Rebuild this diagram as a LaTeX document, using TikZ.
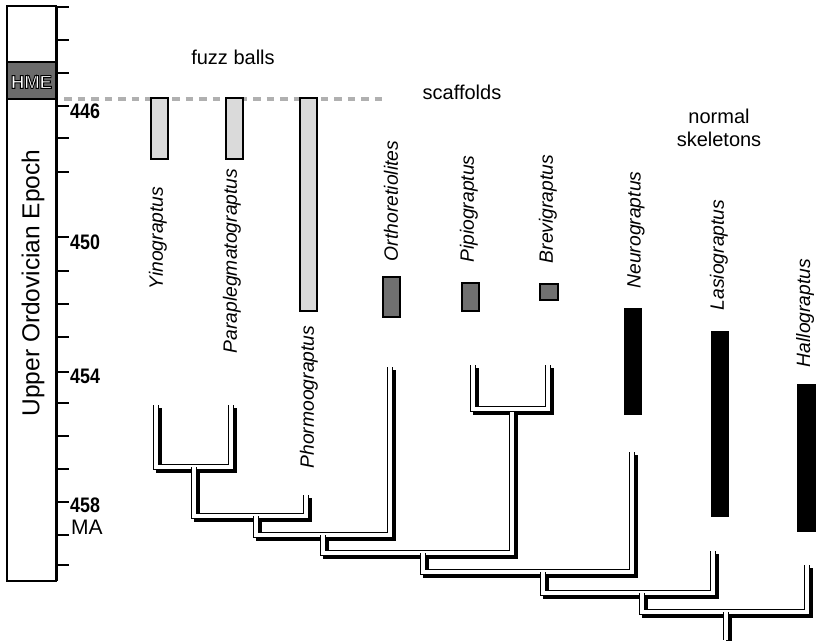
\documentclass[tikz,border=0pt]{standalone}
\usepackage{fontspec}
\setmainfont{Liberation Sans}
\newfontfamily\narrowfont[FakeStretch=0.85]{Liberation Sans}
\definecolor{hmegray}{HTML}{6B6B6B}
\definecolor{scafgray}{HTML}{707070}
\definecolor{fuzzgray}{HTML}{DADADA}
\definecolor{dashgray}{HTML}{B0B0B0}
\tikzset{
  axisline/.style={line width=1.4pt},
  tickline/.style={line width=1.5pt},
  numlabel/.style={anchor=west, inner sep=0pt, font=\narrowfont\bfseries\fontsize{21}{21}\selectfont},
  taxon/.style={rotate=90, inner sep=0pt, font=\itshape\fontsize{19.3}{19.3}\selectfont},
  grouplabel/.style={inner sep=0pt, align=center, font=\fontsize{20}{23}\selectfont},
  fuzzbar/.style={draw=black, line width=1.1pt, fill=fuzzgray},
  scafbar/.style={draw=black, line width=1.1pt, fill=scafgray},
  normbar/.style={fill=black},
  shadowline/.style={line width=6pt, black, line cap=butt, line join=miter,
    transform canvas={xshift=3pt, yshift=-3pt}},
  branchline/.style={line width=1.1pt, double=white, double distance=3.5pt, line cap=butt, line join=miter}
}
\begin{document}
\begin{tikzpicture}[x=1pt, y=-1pt]
\useasboundingbox (0,0) rectangle (819,640);
% ---- time column ----
\draw[axisline] (7,6) rectangle (56,581);
\draw[axisline, fill=hmegray] (7,62) rectangle (56,99);
\node[text=white, inner sep=0pt, font=\bfseries\fontsize{18.5}{18.5}\selectfont] (hme) at (31.5,82)
  {\special{pdf:literal direct 0 G 0.9 w 2 Tr}HME\special{pdf:literal direct 0 Tr}};
\node[rotate=90, inner sep=0pt, font=\fontsize{24.5}{24.5}\selectfont] (epoch) at (33,283) {Upper Ordovician Epoch};
\draw[axisline] (57,6) -- (57,581);
\foreach \ty in {7,40,73,106,138,172,237,271,304,337,372,403,436,469,502,535,565}
  \draw[tickline] (57,\ty) -- (69,\ty);
\node[numlabel] (l446) at (70,111) {446};
\node[numlabel] (l450) at (70,242) {450};
\node[numlabel] (l454) at (70,376) {454};
\node[numlabel] (l458) at (70,505) {458};
\node[anchor=west, inner sep=0pt, font=\fontsize{21}{21}\selectfont] (ma) at (71,527) {MA};
% ---- HME boundary ----
\draw[dashgray, line width=4pt, dash pattern=on 7.5pt off 6pt] (64,99) -- (387,99);
% ---- group labels ----
\node[grouplabel] (fuzz) at (233,57) {fuzz balls};
\node[grouplabel] (scaf) at (462,92) {scaffolds};
\node[grouplabel] (norm) at (719,128) {normal\\skeletons};
% ---- range bars ----
\draw[fuzzbar] (151,98) rectangle (168,159);
\draw[fuzzbar] (226,98) rectangle (243,159);
\draw[fuzzbar] (300,98) rectangle (317,311);
\draw[scafbar] (383,277) rectangle (400,317);
\draw[scafbar] (462,283) rectangle (479,311);
\draw[scafbar] (540,284) rectangle (558,300);
\fill[normbar] (624,308) rectangle (642,415);
\fill[normbar] (711,331) rectangle (729,517);
\fill[normbar] (797,384) rectangle (816,532);
% ---- taxon names ----
\node[taxon] (nY)  at (158,238) {Yinograptus};
\node[taxon] (nP)  at (232,261) {Paraplegmatograptus};
\node[taxon] (nPh) at (309,397) {Phormoograptus};
\node[taxon] (nO)  at (391,201) {Orthoretiolites};
\node[taxon] (nPi) at (469,209) {Pipiograptus};
\node[taxon] (nBr) at (548,209) {Brevigraptus};
\node[taxon] (nN)  at (636,230) {Neurograptus};
\node[taxon] (nL)  at (719,255) {Lasiograptus};
\node[taxon] (nH)  at (805,313) {Hallograptus};
% ---- tree ----
\coordinate (tY)  at (156,405);
\coordinate (tP)  at (231,405);
\coordinate (tPh) at (306,495);
\coordinate (tO)  at (390,367);
\coordinate (tPi) at (473,365);
\coordinate (tBr) at (548,365);
\coordinate (tN)  at (632,452);
\coordinate (tL)  at (713,551);
\coordinate (tH)  at (807,565);
\coordinate (A)  at (194,467);
\coordinate (B)  at (256,516);
\coordinate (C)  at (323,535);
\coordinate (D)  at (423,553);
\coordinate (PB) at (512,409);
\coordinate (E)  at (543,572);
\coordinate (F)  at (642,593);
\coordinate (G)  at (726,612);
\coordinate (root) at (726,640);
\foreach \a/\b in {A/tY, A/tP, B/A, B/tPh, C/B, C/tO, D/C, D/PB, PB/tPi, PB/tBr, E/D, E/tN, F/E, F/tL, G/F, G/tH}
  \draw[shadowline] (\a) -| (\b);
\draw[shadowline] (G) -- (root);
\foreach \a/\b in {A/tY, A/tP, B/A, B/tPh, C/B, C/tO, D/C, D/PB, PB/tPi, PB/tBr, E/D, E/tN, F/E, F/tL, G/F, G/tH}
  \draw[branchline] (\a) -| (\b);
\draw[branchline] (G) -- (root);
\end{tikzpicture}
\end{document}
